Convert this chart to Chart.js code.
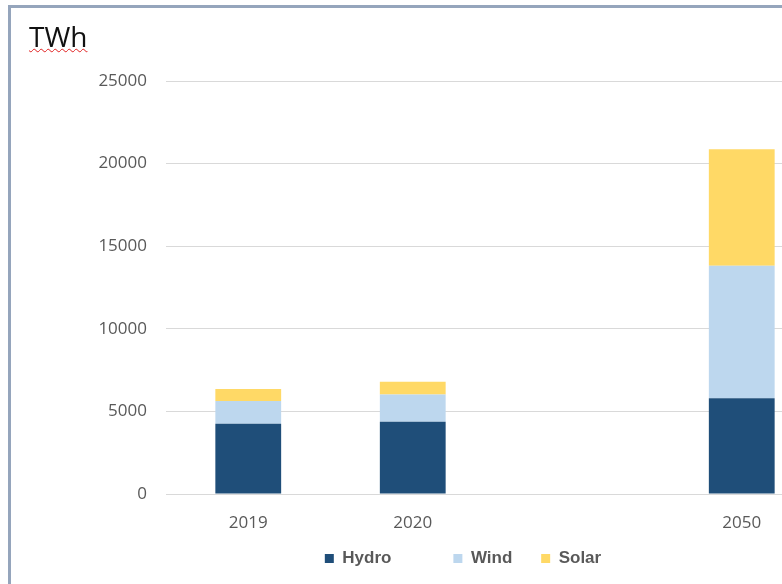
<!DOCTYPE html>
<html lang="en">
<head>
  <meta charset="UTF-8">
  <title>TWh</title>
  <script src="https://cdn.jsdelivr.net/npm/chart.js@4"></script>
  <style>
    html, body { margin: 0; padding: 0; background: #fff; overflow: hidden; width: 782px; height: 584px; }
    .plot-container { position: absolute; left: 0; top: 0; width: 926px; height: 584px; }
    .frame {
      position: absolute; left: 8px; top: 5px; width: 900px; height: 700px;
      border: 3px solid #95a5bc; pointer-events: none;
    }
    .unit {
      position: absolute; left: 29px; top: 22px;
      font-family: "Open Sans", sans-serif; font-size: 28px; line-height: 28px; color: #111;
      text-decoration: underline wavy #e02020; text-decoration-thickness: 1px;
      text-underline-offset: 1px; text-decoration-skip-ink: none;
    }
  </style>
</head>
<body>
  <div class="plot-container">
    <canvas id="plot"></canvas>
  </div>
  <div class="frame"></div>
  <div class="unit">TWh</div>

  <script>
    const years = ['2019', '2020', '', '2050'];
    const hydro = [4250, 4380, null, 5800];
    const wind = [1380, 1650, null, 8020];
    const solar = [730, 770, null, 7050];
    const yTicks = [0, 5000, 10000, 15000, 20000, 25000];

    const textColor = '#595959';

    const data = {
      labels: years,
      datasets: [
        { label: 'Hydro', data: hydro, backgroundColor: '#1f4e79' },
        { label: 'Wind', data: wind, backgroundColor: '#bdd7ee' },
        { label: 'Solar', data: solar, backgroundColor: '#ffd966' }
      ]
    };

    // extra room after some legend entries, like the uneven spacing in the original
    const legendGap = { Hydro: '           ', Wind: '    ', Solar: '' };

    // legend sits right of the canvas centre in the original
    const legendShift = {
      id: 'legendShift',
      afterLayout(chart) {
        chart.legend.left += 51;
        chart.legend.right += 51;
      }
    };

    const config = {
      type: 'bar',
      data,
      options: {
        responsive: true,
        maintainAspectRatio: false,
        animation: false,
        datasets: {
          bar: { categoryPercentage: 1, barPercentage: 0.4, borderWidth: 0 }
        },
        layout: { padding: { left: 0, right: 102, top: 81, bottom: 7 } },
        scales: {
          x: {
            stacked: true,
            grid: { display: false },
            border: { display: false },
            ticks: {
              color: textColor,
              padding: 11,
              font: { family: 'Open Sans', size: 17 }
            },
            afterFit: (scale) => { scale.height = 46; }
          },
          y: {
            stacked: true,
            min: 0,
            max: 25000,
            afterBuildTicks: (scale) => { scale.ticks = yTicks.map(v => ({ value: v })); },
            grid: { color: '#d9d9d9', lineWidth: 1, drawTicks: false },
            border: { display: false },
            ticks: {
              color: textColor,
              padding: 19,
              font: { family: 'Open Sans', size: 17 },
              callback: (v) => String(v)
            },
            afterFit: (scale) => { scale.width = 166; }
          }
        },
        plugins: {
          tooltip: { enabled: false },
          legend: {
            position: 'bottom',
            labels: {
              color: textColor,
              boxWidth: 9,
              boxHeight: 9,
              padding: 10,
              font: { family: 'Liberation Sans', size: 17, weight: 'bold' },
              generateLabels: (chart) => {
                const items = Chart.defaults.plugins.legend.labels.generateLabels(chart);
                items.forEach(it => { it.text = it.text + (legendGap[it.text] || ''); it.lineWidth = 0; });
                return items;
              }
            }
          }
        }
      },
      plugins: [legendShift]
    };

    const plot = new Chart(document.getElementById('plot'), config);
  </script>
</body>
</html>
